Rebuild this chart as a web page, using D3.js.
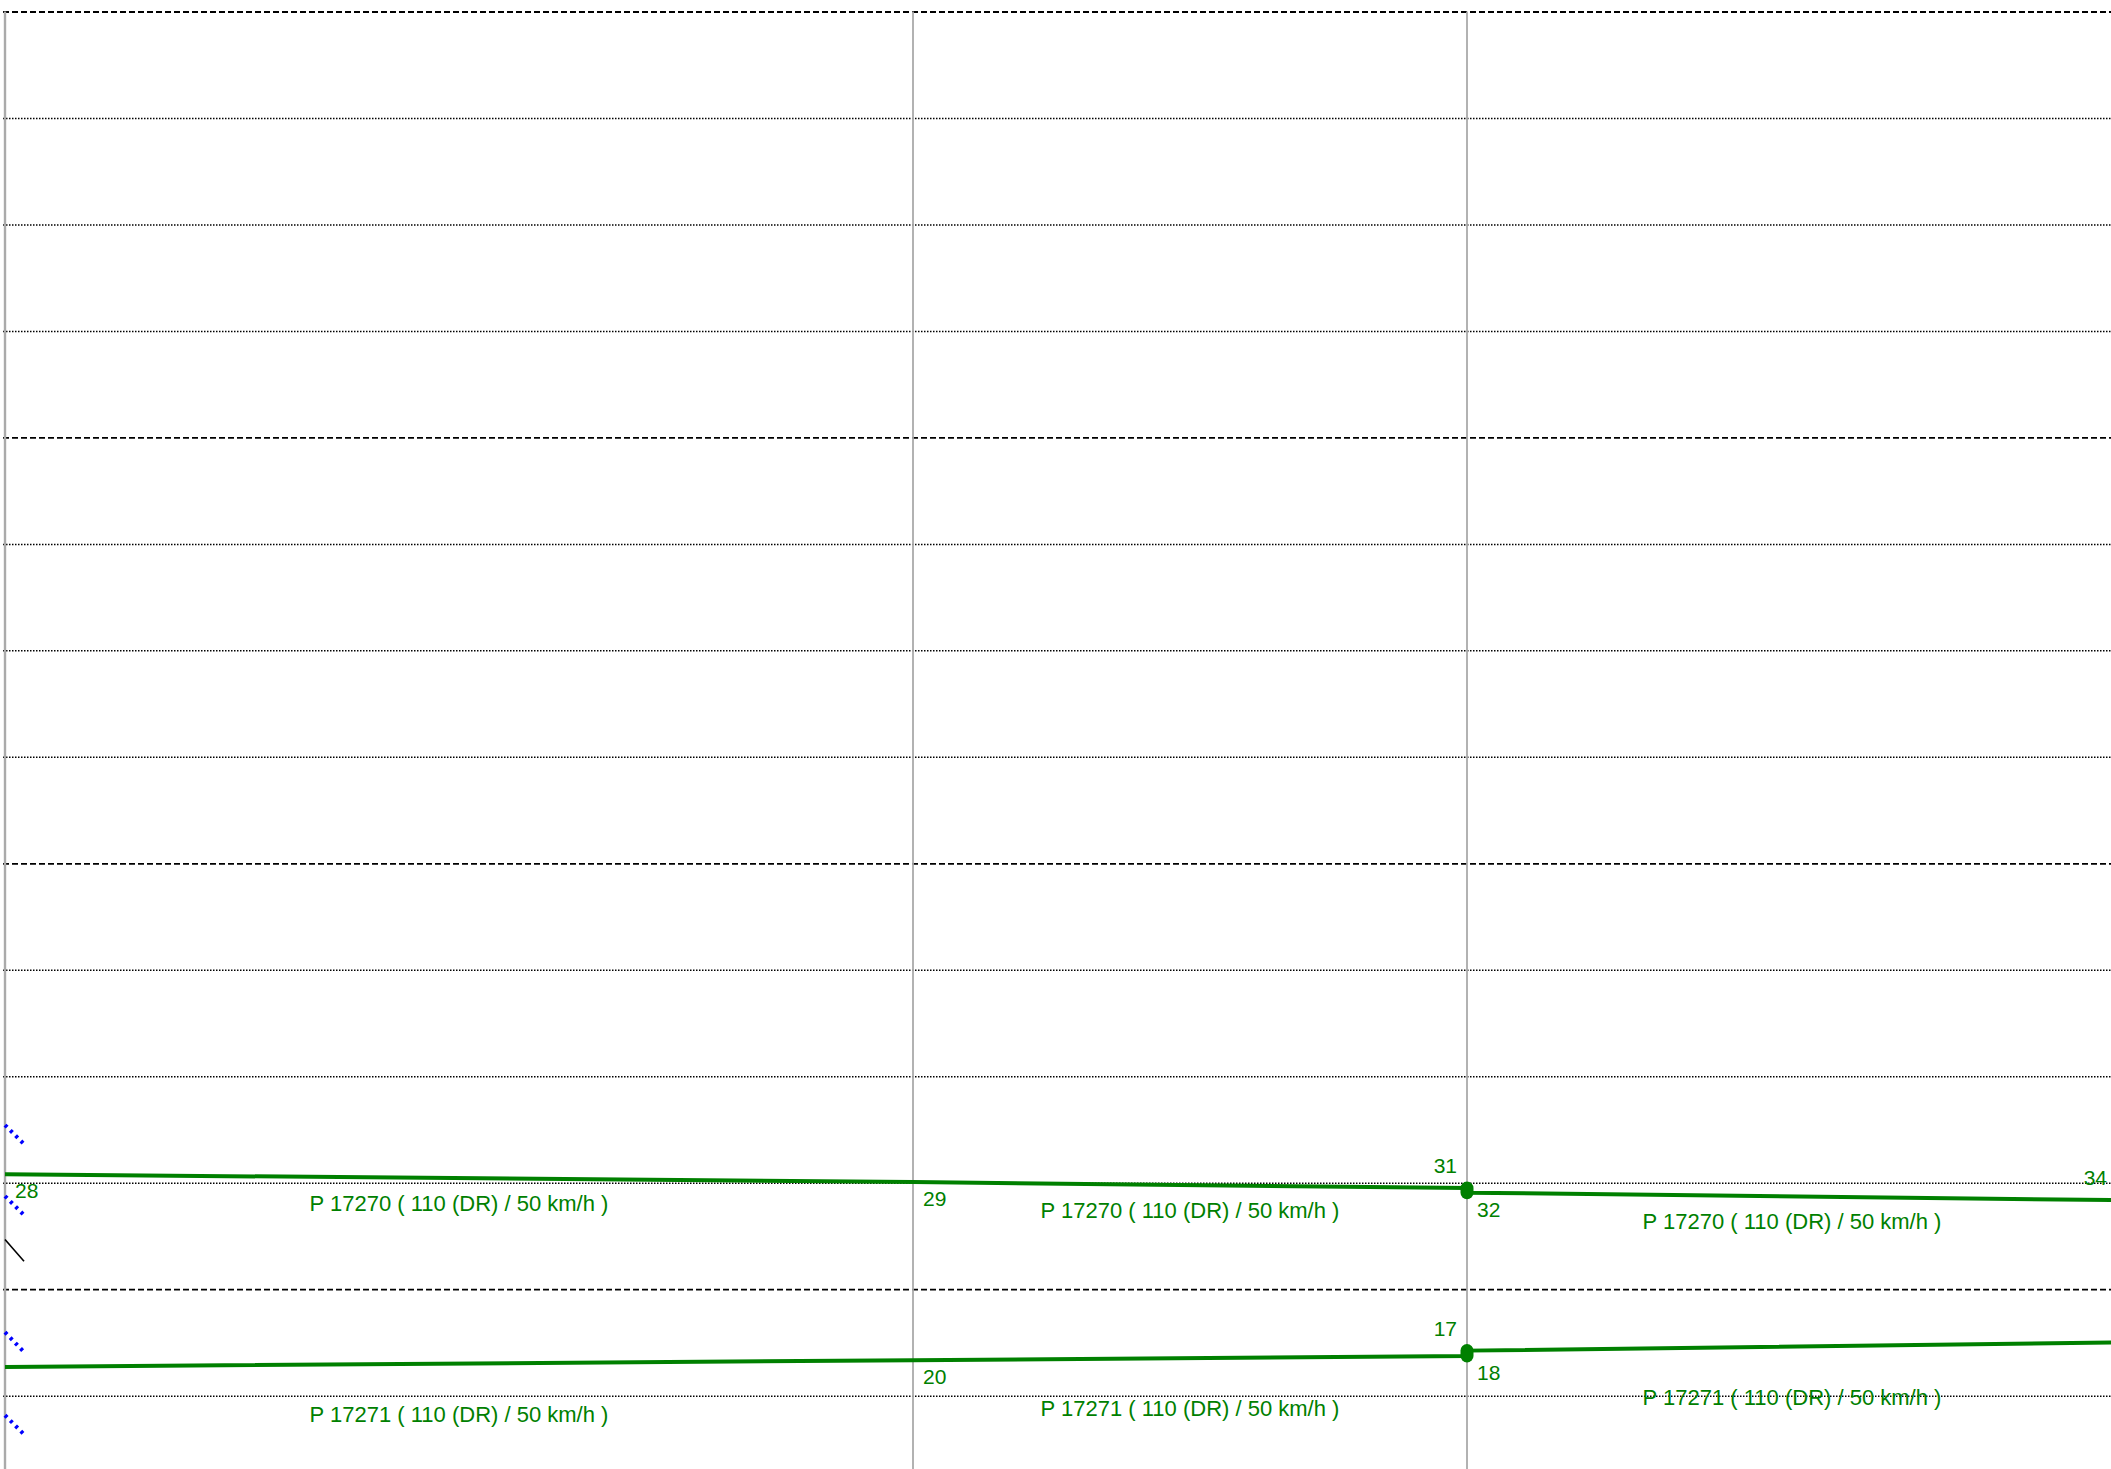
<!DOCTYPE html>
<html>
<head>
<meta charset="utf-8">
<script src="https://cdn.jsdelivr.net/npm/d3@7"></script>
<style>
  body { margin: 0; background: #fff; }
  svg { display: block; }
  text { font-family: "Liberation Sans", Arial, sans-serif; }
</style>
</head>
<body>
<svg id="chart"></svg>
<script>
var width = 2111, height = 1469;

// stations along the line (km), the last one sits just past the right edge
var stationKm = [0, 9.08, 14.62, 21.12];

// time grid, every half hour, dashed on even hours
var gridTimes = ['2:00', '2:30', '3:00', '3:30', '4:00', '4:30', '5:00',
  '5:30', '6:00', '6:30', '7:00', '7:30', '8:00', '8:30'];

var trainNames = ['P 17270 ( 110 (DR) / 50 km/h )', 'P 17271 ( 110 (DR) / 50 km/h )'];

var p17270Km = [0, 9.08, 14.62, 14.62, 21.12];
var p17270Times = ['7:27:36', '7:29:48', '7:31:30', '7:32:48', '7:34:54'];
var p17270Events = ['dep', 'pass', 'arr', 'dep', 'arr'];
var p17270Labels = ['28', '29', '31', '32', '34'];

var p17271Km = [21.12, 14.62, 14.62, 9.08, 0];
var p17271Times = ['8:15:00', '8:17:18', '8:18:48', '8:20:00', '8:21:54'];
var p17271Events = ['dep', 'arr', 'dep', 'pass', 'arr'];
var p17271Labels = ['', '17', '18', '20', ''];

// short stubs of trains leaving at the first station
var stubKm = [0, 0.19];
var stubStart = ['7:13:45', '7:33:45', '7:45:58', '8:12:06', '8:35:30'];
var stubEnd = ['7:19:06', '7:39:06', '7:52:06', '8:17:42', '8:40:54'];
var stubKind = ['other', 'other', 'freight', 'other', 'other'];

var toMin = function(s) {
  var p = s.split(':').map(Number);
  return p[0] * 60 + p[1] + (p[2] || 0) / 60;
};

var x = d3.scaleLinear().domain([0, 21.12]).range([5, 2117]);
var y = d3.scaleLinear().domain([toMin('2:00'), toMin('8:30')]).range([11.5, 1395.7]);

var svg = d3.select('#chart').attr('width', width).attr('height', height);

// horizontal time grid through an axis
var grid = svg.append('g')
  .attr('class', 'grid')
  .attr('transform', 'translate(3,0)')
  .call(d3.axisRight(y)
    .tickValues(gridTimes.map(toMin))
    .tickSize(width)
    .tickFormat(''));
grid.select('.domain').remove();
grid.selectAll('.tick line')
  .attr('stroke', '#000')
  .attr('stroke-width', function(d) { return d % 120 === 0 ? 1.8 : 1.5; })
  .attr('stroke-dasharray', function(d) { return d % 120 === 0 ? '6,3' : '1.5,1.5'; });

// station lines
svg.append('g').selectAll('line')
  .data(stationKm)
  .enter().append('line')
  .attr('x1', function(d) { return x(d); })
  .attr('x2', function(d) { return x(d); })
  .attr('y1', y(toMin('2:00')))
  .attr('y2', height)
  .attr('stroke', '#aaa')
  .attr('stroke-width', function(d, i) { return i === 0 ? 2.4 : 1.8; });

// stubs
var stubs = stubStart.map(function(s, i) {
  return { t0: toMin(s), t1: toMin(stubEnd[i]), kind: stubKind[i] };
});
svg.append('g').selectAll('line')
  .data(stubs)
  .enter().append('line')
  .attr('x1', x(stubKm[0]))
  .attr('x2', x(stubKm[1]))
  .attr('y1', function(d) { return y(d.t0); })
  .attr('y2', function(d) { return y(d.t1); })
  .attr('stroke', function(d) { return d.kind === 'freight' ? '#000' : '#0000ff'; })
  .attr('stroke-width', function(d) { return d.kind === 'freight' ? 1.6 : 4; })
  .attr('stroke-dasharray', function(d) { return d.kind === 'freight' ? null : '3,4.5'; });

var makeTrain = function(name, kms, times, events, labels, nameDy) {
  return {
    name: name,
    nameDy: nameDy,
    pts: kms.map(function(k, i) {
      return { km: k, t: toMin(times[i]), ev: events[i], label: labels[i] };
    })
  };
};

var trains = [
  makeTrain(trainNames[0], p17270Km, p17270Times, p17270Events, p17270Labels, 33),
  makeTrain(trainNames[1], p17271Km, p17271Times, p17271Events, p17271Labels, 58)
];

var green = '#008000';
var line = d3.line()
  .x(function(d) { return x(d.km); })
  .y(function(d) { return y(d.t); });

trains.forEach(function(tr) {
  var g = svg.append('g').attr('class', 'train');

  g.append('path')
    .attr('d', line(tr.pts))
    .attr('fill', 'none')
    .attr('stroke', green)
    .attr('stroke-width', 4);

  // stops: arrival and departure at the same station
  var stops = [];
  var segs = [];
  for (var i = 0; i < tr.pts.length - 1; i++) {
    var a = tr.pts[i], b = tr.pts[i + 1];
    if (a.km === b.km) stops.push([a, b]);
    else segs.push([a, b]);
  }

  g.selectAll('line.stop')
    .data(stops)
    .enter().append('line')
    .attr('class', 'stop')
    .attr('x1', function(d) { return x(d[0].km); })
    .attr('x2', function(d) { return x(d[1].km); })
    .attr('y1', function(d) { return y(d[0].t); })
    .attr('y2', function(d) { return y(d[1].t); })
    .attr('stroke', green)
    .attr('stroke-width', 13)
    .attr('stroke-linecap', 'round');

  g.selectAll('text.name')
    .data(segs)
    .enter().append('text')
    .attr('class', 'name')
    .attr('x', function(d) { return (x(d[0].km) + x(d[1].km)) / 2; })
    .attr('y', function(d) { return (y(d[0].t) + y(d[1].t)) / 2 + tr.nameDy; })
    .attr('text-anchor', 'middle')
    .attr('font-size', 22)
    .attr('fill', green)
    .text(tr.name);

  g.selectAll('text.time')
    .data(tr.pts.filter(function(d) { return d.label !== ''; }))
    .enter().append('text')
    .attr('class', 'time')
    .attr('x', function(d) { return d.ev === 'arr' ? x(d.km) - 10 : x(d.km) + 10; })
    .attr('y', function(d) { return d.ev === 'arr' ? y(d.t) - 15 : y(d.t) + 24; })
    .attr('text-anchor', function(d) { return d.ev === 'arr' ? 'end' : 'start'; })
    .attr('font-size', 21)
    .attr('fill', green)
    .text(function(d) { return d.label; });
});
</script>
</body>
</html>
